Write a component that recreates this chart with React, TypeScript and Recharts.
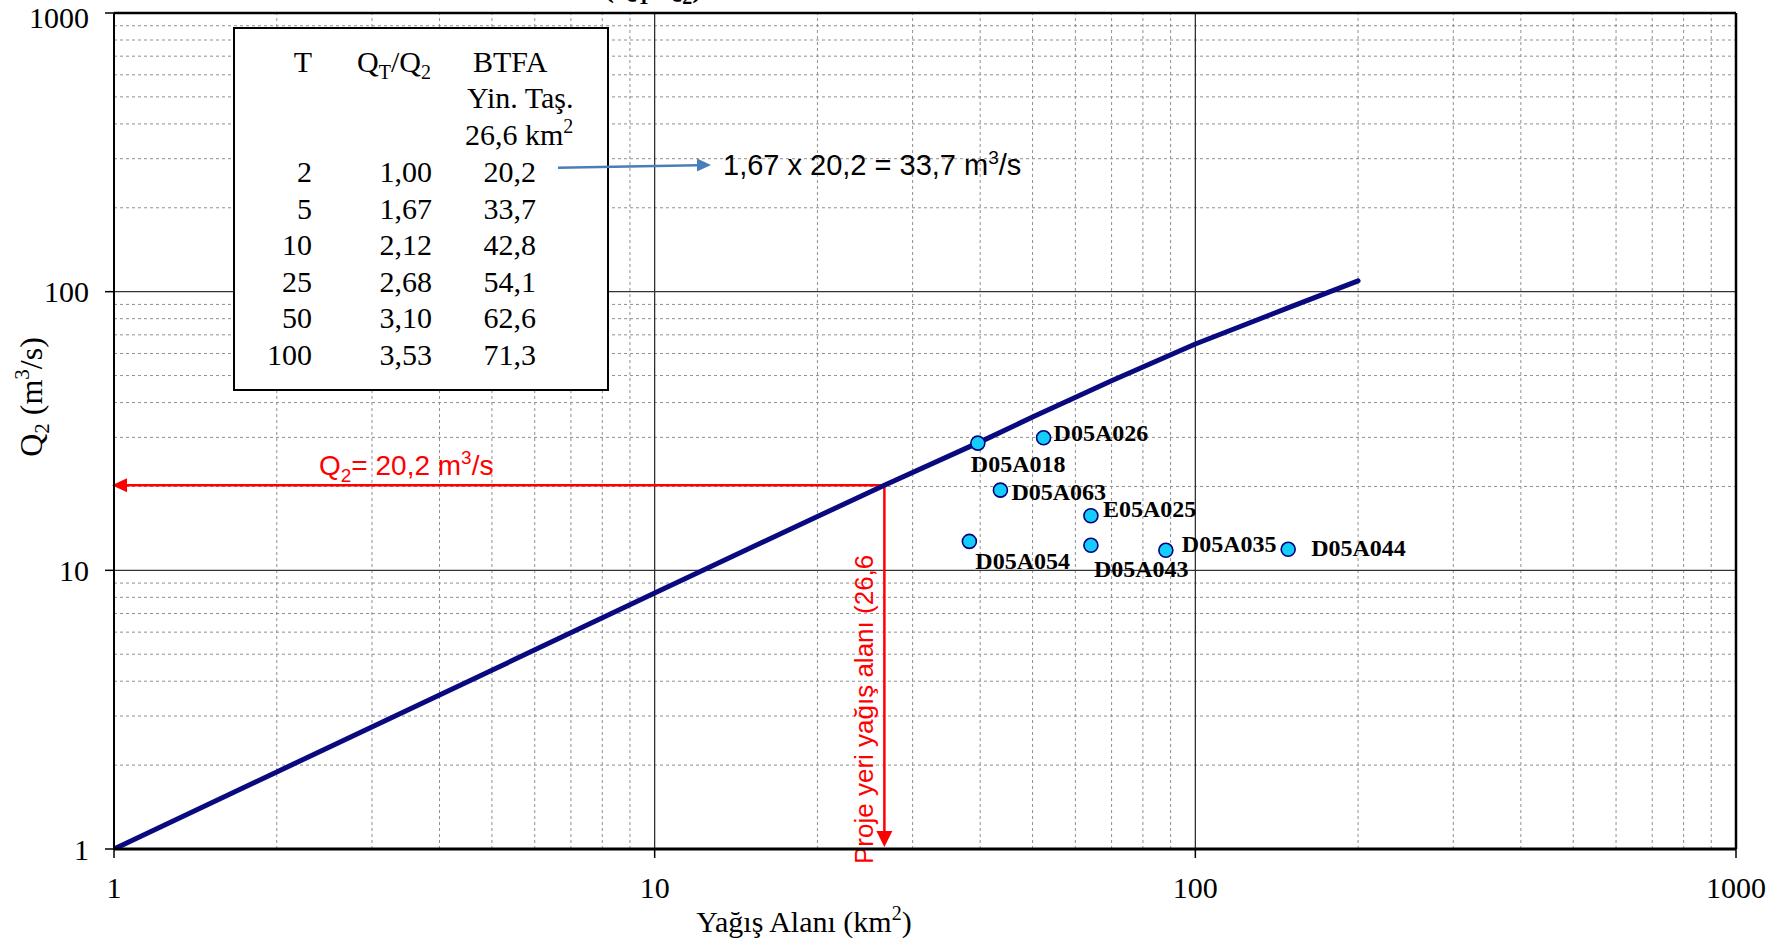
import React from "react";
import { ComposedChart, Line, Scatter, XAxis, YAxis, ReferenceLine } from "recharts";

// regional curve: drainage area (km²) against Q2 (m³/s)
const curveArea = [1, 2, 5, 10, 20, 26.6, 40, 50, 70, 100, 150, 200];
const curveQ2 = [1, 1.89, 4.38, 8.3, 15.6, 20.2, 28.9, 35.5, 47.9, 64.9, 88.2, 109.4];

// gauging stations
const stationNames = ["D05A018", "D05A026", "D05A063", "E05A025", "D05A054", "D05A043", "D05A035", "D05A044"];
const stationArea = [39.6, 52.4, 43.6, 64.1, 38.2, 64.1, 88.2, 148.5];
const stationQ2 = [28.6, 29.9, 19.4, 15.7, 12.7, 12.3, 11.8, 11.9];

// flood table for the project basin
const returnPeriods = [2, 5, 10, 25, 50, 100];
const flowRatios = [1.0, 1.67, 2.12, 2.68, 3.1, 3.53];
const btfaFlows = [20.2, 33.7, 42.8, 54.1, 62.6, 71.3];

const siteArea = 26.6;
const siteQ2 = 20.2;

const axisTicks = [1, 10, 100, 1000];

const SERIF = '"Liberation Serif", "Times New Roman", serif';
const SANS = '"Liberation Sans", Arial, sans-serif';

const curveData = curveArea.map((area, i) => ({ area, q: curveQ2[i] }));
const stations = stationNames.map((name, i) => ({ name, area: stationArea[i], q: stationQ2[i] }));

const minorGrid: number[] = [];
[1, 10, 100].forEach((d) => {
  for (let m = 2; m <= 9; m++) minorGrid.push(m * d);
});
const majorGrid = [10, 100];

// label placement around each station marker (dx, dy to baseline start)
const labelOffset: Record<string, [number, number]> = {
  D05A018: [-7, 29],
  D05A026: [10, 3],
  D05A063: [11, 10],
  E05A025: [12, 1],
  D05A054: [6, 28],
  D05A043: [3, 32],
  D05A035: [16, 2],
  D05A044: [23, 7],
};

const fmt = (v: number, d: number) => v.toFixed(d).replace(".", ",");

const renderStation = (props: any) => {
  const { cx, cy, payload } = props;
  const [dx, dy] = labelOffset[payload.name] || [10, 5];
  return (
    <g>
      <circle cx={cx} cy={cy} r={7} fill="#14cdf9" stroke="#00007a" strokeWidth={1.6} />
      <text x={cx + dx} y={cy + dy} fontFamily={SERIF} fontWeight="bold" fontSize={24} fill="#000">
        {payload.name}
      </text>
    </g>
  );
};

const LeftArrow = (props: any) => {
  const { x1, y1, x2 } = props;
  const tip = x2 - 2;
  return (
    <g>
      <line x1={x1} y1={y1} x2={tip + 12} y2={y1} stroke="#ff0000" strokeWidth={2.5} />
      <polygon points={`${tip},${y1} ${tip + 15},${y1 - 7} ${tip + 15},${y1 + 7}`} fill="#ff0000" />
      <text x={x2 + 205} y={y1 - 10} fill="#ff0000" fontFamily={SANS} fontSize={28}>
        Q<tspan dy={7} fontSize={19}>2</tspan>
        <tspan dy={-7}>{`= ${fmt(siteQ2, 1)} m`}</tspan>
        <tspan dy={-11} fontSize={19}>3</tspan>
        <tspan dy={11}>/s</tspan>
      </text>
    </g>
  );
};

const DownArrow = (props: any) => {
  const { x1, y1, y2 } = props;
  const tip = y2 - 2;
  return (
    <g>
      <line x1={x1} y1={y1} x2={x1} y2={tip - 14} stroke="#ff0000" strokeWidth={2.5} />
      <polygon points={`${x1},${tip} ${x1 - 8},${tip - 16} ${x1 + 8},${tip - 16}`} fill="#ff0000" />
      <text
        transform={`translate(${x1 - 11}, ${y2 + 15}) rotate(-90)`}
        fill="#ff0000"
        fontFamily={SANS}
        fontSize={26}
      >
        {`Proje yeri yağış alanı (${fmt(siteArea, 1)}`}
      </text>
    </g>
  );
};

const tableRowY = [182, 219, 255, 292, 328, 365];

function FloodTable() {
  return (
    <svg
      width={1787}
      height={944}
      style={{ position: "absolute", left: 0, top: 0, pointerEvents: "none" }}
    >
      {/* heading, mostly above the page edge */}
      <text x={604} y={-3} fontFamily={SERIF} fontWeight="bold" fontSize={30}>
        (Q<tspan dy={7} fontSize={20}>T</tspan>
        <tspan dy={-7}>/Q</tspan>
        <tspan dy={7} fontSize={20}>2</tspan>
        <tspan dy={-7}>)</tspan>
      </text>

      <rect x={234} y={28} width={374} height={362} fill="#fff" stroke="#000" strokeWidth={2} />
      <g fontFamily={SERIF} fontSize={30} fill="#000">
        <text x={312} y={72} textAnchor="end">T</text>
        <text x={357} y={72}>
          Q<tspan dy={7} fontSize={20}>T</tspan>
          <tspan dy={-7}>/Q</tspan>
          <tspan dy={7} fontSize={20}>2</tspan>
        </text>
        <text x={473} y={72}>BTFA</text>
        <text x={467} y={108}>Yin. Taş.</text>
        <text x={465} y={145}>
          {`${fmt(siteArea, 1)} km`}
          <tspan dy={-12} fontSize={20}>2</tspan>
        </text>
        {returnPeriods.map((t, i) => (
          <g key={t}>
            <text x={312} y={tableRowY[i]} textAnchor="end">{t}</text>
            <text x={432} y={tableRowY[i]} textAnchor="end">{fmt(flowRatios[i], 2)}</text>
            <text x={536} y={tableRowY[i]} textAnchor="end">{fmt(btfaFlows[i], 1)}</text>
          </g>
        ))}
      </g>

      {/* pointer from the Q2 row to the worked example */}
      <line x1={558} y1={167.7} x2={698} y2={165.2} stroke="#4a7ebb" strokeWidth={2.5} />
      <polygon points="711,165 697,158.5 697,171.5" fill="#4a7ebb" />
      <text x={723} y={175} fontFamily={SANS} fontSize={29} fill="#000">
        {`${fmt(flowRatios[1], 2)} x ${fmt(siteQ2, 1)} = ${fmt(btfaFlows[1], 1)} m`}
        <tspan dy={-11} fontSize={19}>3</tspan>
        <tspan dy={11}>/s</tspan>
      </text>

      {/* axis titles */}
      <text x={804} y={932} textAnchor="middle" fontFamily={SERIF} fontSize={30}>
        Yağış Alanı (km<tspan dy={-12} fontSize={20}>2</tspan>
        <tspan dy={12}>)</tspan>
      </text>
      <text transform="translate(42, 397) rotate(-90)" textAnchor="middle" fontFamily={SERIF} fontSize={32}>
        Q<tspan dy={7} fontSize={21}>2</tspan>
        <tspan dy={-7}> (m</tspan>
        <tspan dy={-13} fontSize={21}>3</tspan>
        <tspan dy={13}>/s)</tspan>
      </text>
    </svg>
  );
}

export default function App() {
  return (
    <div style={{ position: "relative", width: 1787, height: 944, background: "#fff" }}>
      <style>{"body{margin:0}"}</style>
      <ComposedChart width={1787} height={944} margin={{ top: 13, right: 51, bottom: 0, left: 0 }}>
        <XAxis
          type="number"
          dataKey="area"
          scale="log"
          domain={[1, 1000]}
          ticks={axisTicks}
          allowDataOverflow
          height={95}
          axisLine={{ stroke: "#000", strokeWidth: 3 }}
          tickLine={{ stroke: "#000", strokeWidth: 1.5 }}
          tickSize={9}
          tickMargin={19}
          tick={{ fontFamily: SERIF, fontSize: 30, fill: "#000" }}
        />
        <YAxis
          type="number"
          dataKey="q"
          scale="log"
          domain={[1, 1000]}
          ticks={axisTicks}
          allowDataOverflow
          width={114}
          axisLine={{ stroke: "#000", strokeWidth: 2 }}
          tickLine={{ stroke: "#000", strokeWidth: 1.5 }}
          tickSize={9}
          tickMargin={16}
          tick={{ fontFamily: SERIF, fontSize: 30, fill: "#000" }}
        />

        {minorGrid.map((v) => (
          <ReferenceLine key={`gx${v}`} x={v} stroke="#8f8f8f" strokeDasharray="3 3" strokeWidth={1} />
        ))}
        {minorGrid.map((v) => (
          <ReferenceLine key={`gy${v}`} y={v} stroke="#8f8f8f" strokeDasharray="3 3" strokeWidth={1} />
        ))}
        {majorGrid.map((v) => (
          <ReferenceLine key={`mx${v}`} x={v} stroke="#222" strokeWidth={1.2} />
        ))}
        {majorGrid.map((v) => (
          <ReferenceLine key={`my${v}`} y={v} stroke="#333" strokeWidth={1.2} />
        ))}
        <ReferenceLine x={1000} stroke="#000" strokeWidth={2.5} />
        <ReferenceLine y={1000} stroke="#000" strokeWidth={2.5} />

        <ReferenceLine
          segment={[{ x: siteArea, y: siteQ2 }, { x: 1, y: siteQ2 }]}
          ifOverflow="visible"
          shape={(p: any) => <LeftArrow {...p} />}
        />
        <ReferenceLine
          segment={[{ x: siteArea, y: siteQ2 }, { x: siteArea, y: 1 }]}
          ifOverflow="visible"
          shape={(p: any) => <DownArrow {...p} />}
        />

        <Line
          data={curveData}
          dataKey="q"
          type="linear"
          stroke="#0a0a80"
          strokeWidth={5}
          strokeLinecap="round"
          strokeLinejoin="round"
          dot={false}
          isAnimationActive={false}
        />
        <Scatter data={stations} dataKey="q" shape={renderStation} isAnimationActive={false} />
      </ComposedChart>
      <FloodTable />
    </div>
  );
}
